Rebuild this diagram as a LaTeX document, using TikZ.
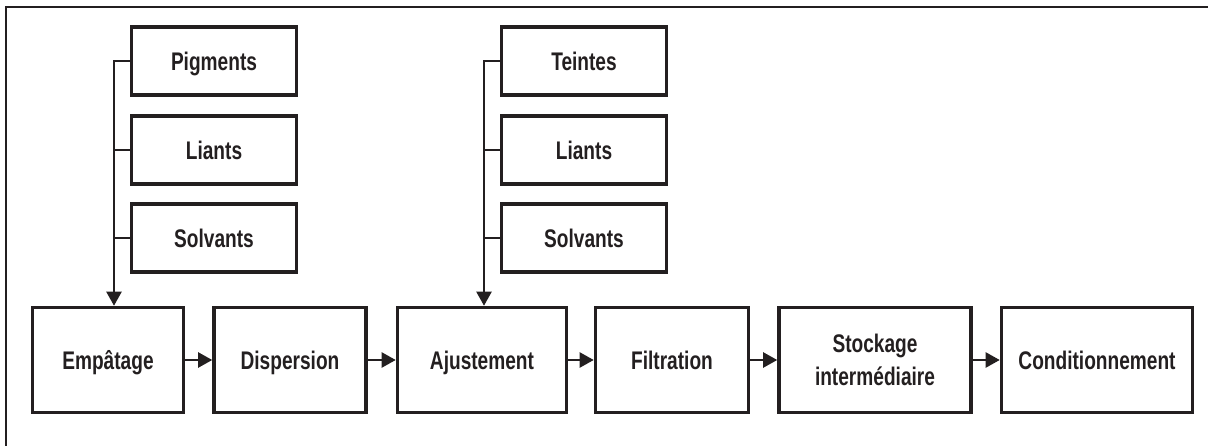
\documentclass[tikz,border=0pt]{standalone}
\usepackage{fontspec}
\setmainfont{Liberation Sans}[FakeStretch=0.75]
\usetikzlibrary{arrows.meta,positioning}

\definecolor{ink}{HTML}{231F20}
\tikzset{
  oneline/.style={text height=11pt,text depth=0pt},
  inbox/.style={draw=ink,line width=2pt,minimum width=3.30cm,minimum height=1.36cm,inner sep=0pt,oneline},
  stepbox/.style={draw=ink,line width=2pt,minimum height=2.10cm,inner sep=0pt,align=center},
  link/.style={draw=ink,line width=1.4pt},
  feed/.style={link,-{Triangle[length=8pt,width=8.5pt]}}
}

\begin{document}
\begin{tikzpicture}[x=0.02cm,y=-0.02cm,every node/.style={text=ink,font=\bfseries\fontsize{14.5}{18.5}\selectfont}]
\useasboundingbox (0,0) rectangle (1208,446);
\draw[ink,line width=0.7pt] (1208,7) -- (6,7) -- (6,446);
% apports
\node[inbox] (pig) at (214,61) {Pigments};
\node[inbox] (lia1) at (214,150) {Liants};
\node[inbox] (sol1) at (214,238) {Solvants};
\node[inbox] (tei) at (584,61) {Teintes};
\node[inbox] (lia2) at (584,150) {Liants};
\node[inbox] (sol2) at (584,238) {Solvants};
% chaine
\node[stepbox,oneline,minimum width=3.02cm] (emp) at (108,360) {Empâtage};
\node[stepbox,oneline,minimum width=3.04cm] (dis) at (290,360) {Dispersion};
\node[stepbox,oneline,minimum width=3.38cm] (aju) at (482,360) {Ajustement};
\node[stepbox,oneline,minimum width=3.06cm] (fil) at (672,360) {Filtration};
\node[stepbox,minimum width=3.84cm] (sto) at (875,360) {Stockage\\intermédiaire};
\node[stepbox,oneline,minimum width=3.82cm] (con) at (1097,360) {Conditionnement};
\coordinate (c1) at (114,61);
\coordinate (c2) at (484,61);
\draw[feed] (pig.west) -- (c1) -- (c1 |- emp.north);
\draw[link] (lia1.west) -- (lia1.west -| c1);
\draw[link] (sol1.west) -- (sol1.west -| c1);
\draw[feed] (tei.west) -- (c2) -- (c2 |- aju.north);
\draw[link] (lia2.west) -- (lia2.west -| c2);
\draw[link] (sol2.west) -- (sol2.west -| c2);
\draw[feed] (emp) -- (dis);
\draw[feed] (dis) -- (aju);
\draw[feed] (aju) -- (fil);
\draw[feed] (fil) -- (sto);
\draw[feed] (sto) -- (con);
\end{tikzpicture}
\end{document}
